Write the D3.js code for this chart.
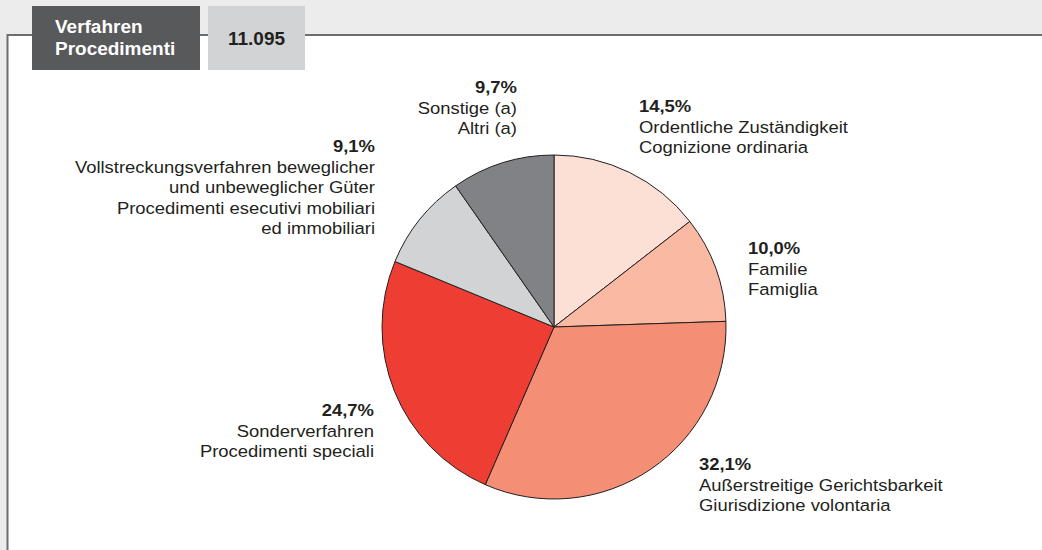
<!DOCTYPE html>
<html>
<head>
<meta charset="utf-8">
<script src="https://cdn.jsdelivr.net/npm/d3@7"></script>
<style>
  html, body { margin: 0; padding: 0; background: #ececec; }
  svg { display: block; font-family: "Liberation Sans", Arial, sans-serif; }
</style>
</head>
<body>
<svg id="chart" width="1042" height="550"></svg>
<script>
// data
var categories = ["Ordentliche Zuständigkeit", "Familie", "Außerstreitige Gerichtsbarkeit",
                  "Sonderverfahren", "Vollstreckungsverfahren", "Sonstige"];
var values = [14.5, 10.0, 32.1, 24.7, 9.1, 9.7];
var pctLabels = ["14,5%", "10,0%", "32,1%", "24,7%", "9,1%", "9,7%"];
var textLines = [
  ["Ordentliche Zuständigkeit", "Cognizione ordinaria"],
  ["Familie", "Famiglia"],
  ["Außerstreitige Gerichtsbarkeit", "Giurisdizione volontaria"],
  ["Sonderverfahren", "Procedimenti speciali"],
  ["Vollstreckungsverfahren beweglicher", "und unbeweglicher Güter", "Procedimenti esecutivi mobiliari", "ed immobiliari"],
  ["Sonstige (a)", "Altri (a)"]
];
var titleLines = ["Verfahren", "Procedimenti"];
var total = "11.095";

var colors = ["#fcdfd5", "#f9b9a3", "#f48e74", "#ee3e33", "#d1d3d4", "#808285"];

// label anchors (baseline of the percent line)
var labelPos = [
  {x: 639, y: 112, anchor: "start"},
  {x: 748, y: 254, anchor: "start"},
  {x: 699, y: 470, anchor: "start"},
  {x: 374, y: 416, anchor: "end"},
  {x: 375, y: 152, anchor: "end"},
  {x: 517, y: 93, anchor: "end"}
];

var svg = d3.select("#chart");
var sx = 1.085, lineH = 20.6;

// frame
svg.append("rect").attr("x", 0).attr("y", 0).attr("width", 1042).attr("height", 550).attr("fill", "#ececec");
svg.append("rect").attr("x", 8).attr("y", 36).attr("width", 1040).attr("height", 520).attr("fill", "#fff");
svg.append("path").attr("d", "M7.5,551 V35 H1043")
  .attr("fill", "none").attr("stroke", "#6d6e71").attr("stroke-width", 2);

// header boxes
svg.append("rect").attr("x", 32).attr("y", 6).attr("width", 168).attr("height", 64).attr("fill", "#58595b");
svg.append("rect").attr("x", 208).attr("y", 6).attr("width", 97).attr("height", 64).attr("fill", "#d1d3d4");

var tg = svg.append("g").attr("transform", "translate(55,33) scale(" + sx + ",1)");
tg.selectAll("text").data(titleLines).join("text")
  .attr("x", 0).attr("y", function(d, i) { return i * 22; })
  .attr("fill", "#fff").attr("font-size", 17.5).attr("font-weight", "bold")
  .text(function(d) { return d; });

svg.append("g").attr("transform", "translate(256.5,45) scale(" + sx + ",1)")
  .append("text").attr("text-anchor", "middle")
  .attr("font-size", 17.5).attr("font-weight", "bold").attr("fill", "#231f20")
  .text(total);

// pie
var cx = 554, cy = 327, r = 172;
var pie = d3.pie().sort(null).value(function(d) { return d; });
var arc = d3.arc().innerRadius(0).outerRadius(r);

svg.append("g").attr("transform", "translate(" + cx + "," + cy + ")")
  .selectAll("path").data(pie(values)).join("path")
  .attr("d", arc)
  .attr("fill", function(d, i) { return colors[i]; })
  .attr("stroke", "#231f20").attr("stroke-width", 1).attr("stroke-linejoin", "round");

// labels
categories.forEach(function(c, i) {
  var p = labelPos[i];
  var g = svg.append("g").attr("transform", "translate(" + p.x + "," + p.y + ") scale(" + sx + ",1)");
  g.append("text").attr("text-anchor", p.anchor)
    .attr("font-size", 17).attr("font-weight", "bold").attr("fill", "#231f20")
    .text(pctLabels[i]);
  g.selectAll("text.l").data(textLines[i]).join("text").attr("class", "l")
    .attr("text-anchor", p.anchor)
    .attr("y", function(d, j) { return (j + 1) * lineH; })
    .attr("font-size", 17).attr("fill", "#231f20")
    .text(function(d) { return d; });
});
</script>
</body>
</html>
